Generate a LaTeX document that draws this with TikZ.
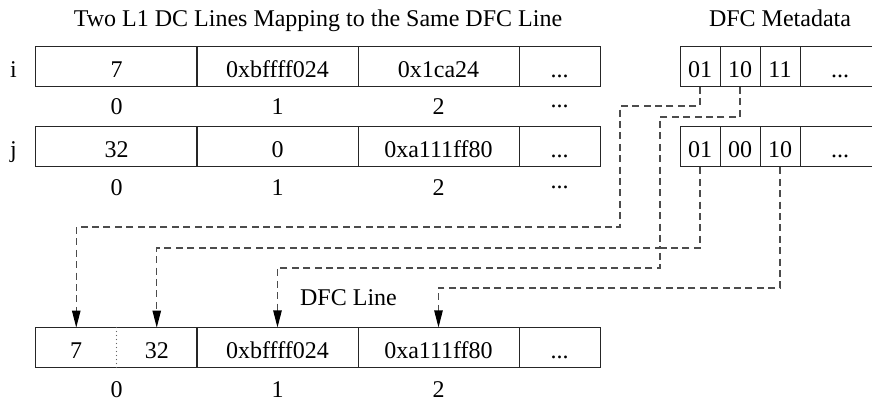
\documentclass[tikz,border=0pt]{standalone}
\usepackage{fontspec}
\setmainfont{Liberation Serif}
\usetikzlibrary{arrows.meta}

\begin{document}
\begin{tikzpicture}[
  x=0.5bp, y=-0.5bp,
  every node/.style={font={\fontsize{12bp}{14bp}\selectfont}, inner sep=0pt},
  cell/.style={draw=black!85, line width=0.5bp, rectangle, minimum height=20bp,
               text height=11bp, text depth=0pt},
  wide/.style={cell, minimum width=80.5bp},
  narrow/.style={cell, minimum width=40.5bp},
  hidden/.style={rectangle, minimum height=20bp, minimum width=40bp,
                 text height=11bp, text depth=0pt},
  idx/.style={anchor=base},
  conn/.style={draw=black!70, line width=0.6bp, dash pattern=on 3.5bp off 2.2bp,
               -{Triangle[length=8.5bp,width=4.2bp,color=black]}}
]
\useasboundingbox (0,0) rectangle (872,402);
\clip (0,0) rectangle (872,402);

% headings
\node[anchor=base] (title) at (318,27) {Two L1 DC Lines Mapping to the Same DFC Line};
\node[anchor=base] (metatitle) at (780,27) {DFC Metadata};

% L1 DC line i
\node[anchor=base] (li) at (13.5,77.5) {i};
\node[wide]   (i0) at (116.5,66.5) {7};
\node[wide]   (i1) at (277.5,66.5) {0xbffff024};
\node[wide]   (i2) at (438.5,66.5) {0x1ca24};
\node[narrow] (i3) at (559.5,66.5) {...};
\node[idx] (ii0) at (116.5,115) {0};
\node[idx] (ii1) at (277.5,115) {1};
\node[idx] (ii2) at (438.5,115) {2};
\node[idx] (ii3) at (559.5,107.5) {...};

% L1 DC line j
\node[anchor=base] (lj) at (13.5,158) {j};
\node[wide]   (j0) at (116.5,147) {32};
\node[wide]   (j1) at (277.5,147) {0};
\node[wide]   (j2) at (438.5,147) {0xa111ff80};
\node[narrow] (j3) at (559.5,147) {...};
\node[idx] (ij0) at (116.5,196) {0};
\node[idx] (ij1) at (277.5,196) {1};
\node[idx] (ij2) at (438.5,196) {2};
\node[idx] (ij3) at (559.5,188.5) {...};

% DFC metadata for i and j
\node[cell, minimum width=20bp] (mi1) at (700,66.5) {01};
\node[cell, minimum width=20bp] (mi2) at (740,66.5) {10};
\node[cell, minimum width=20bp] (mi3) at (780,66.5) {11};
\node[cell, minimum width=40bp] (mi4) at (840,66.5) {...};
\node[cell, minimum width=20bp] (mj1) at (700,147) {01};
\node[cell, minimum width=20bp] (mj2) at (740,147) {00};
\node[cell, minimum width=20bp] (mj3) at (780,147) {10};
\node[cell, minimum width=40bp] (mj4) at (840,147) {...};

% DFC line
\node[anchor=base] (dfclabel) at (348.5,306) {DFC Line};
\node[wide]   (d0) at (116.5,348) {};
\node[hidden] (d0a) at (76.25,348) {7};
\node[hidden] (d0b) at (156.75,348) {32};
\draw[black!60, line width=0.7bp, line cap=round, dash pattern=on 0pt off 2bp]
  (d0.north) -- (d0.south);
\node[wide]   (d1) at (277.5,348) {0xbffff024};
\node[wide]   (d2) at (438.5,348) {0xa111ff80};
\node[narrow] (d3) at (559.5,348) {...};
\node[idx] (id0) at (116.5,398) {0};
\node[idx] (id1) at (277.5,398) {1};
\node[idx] (id2) at (438.5,398) {2};

% routing points of the mapping wires
\coordinate (k1a) at (620,106);
\coordinate (k1b) at (620,227);
\coordinate (k2a) at (660,117);
\coordinate (k2b) at (660,248);
\coordinate (k3b) at (660,268);
\coordinate (k4)  at (780,288);

% mapping wires
\draw[conn] (mi1.south) |- (k1a) -- (k1b) -| (d0a.north);
\draw[conn] (mi2.south) |- (k2a) -- (k2b) -| (d0b.north);
\draw[conn] (mj1.south) |- (k2b) -- (k3b) -| (d1.north);
\draw[conn] (mj3.south) -- (k4) -| (d2.north);
\end{tikzpicture}
\end{document}
